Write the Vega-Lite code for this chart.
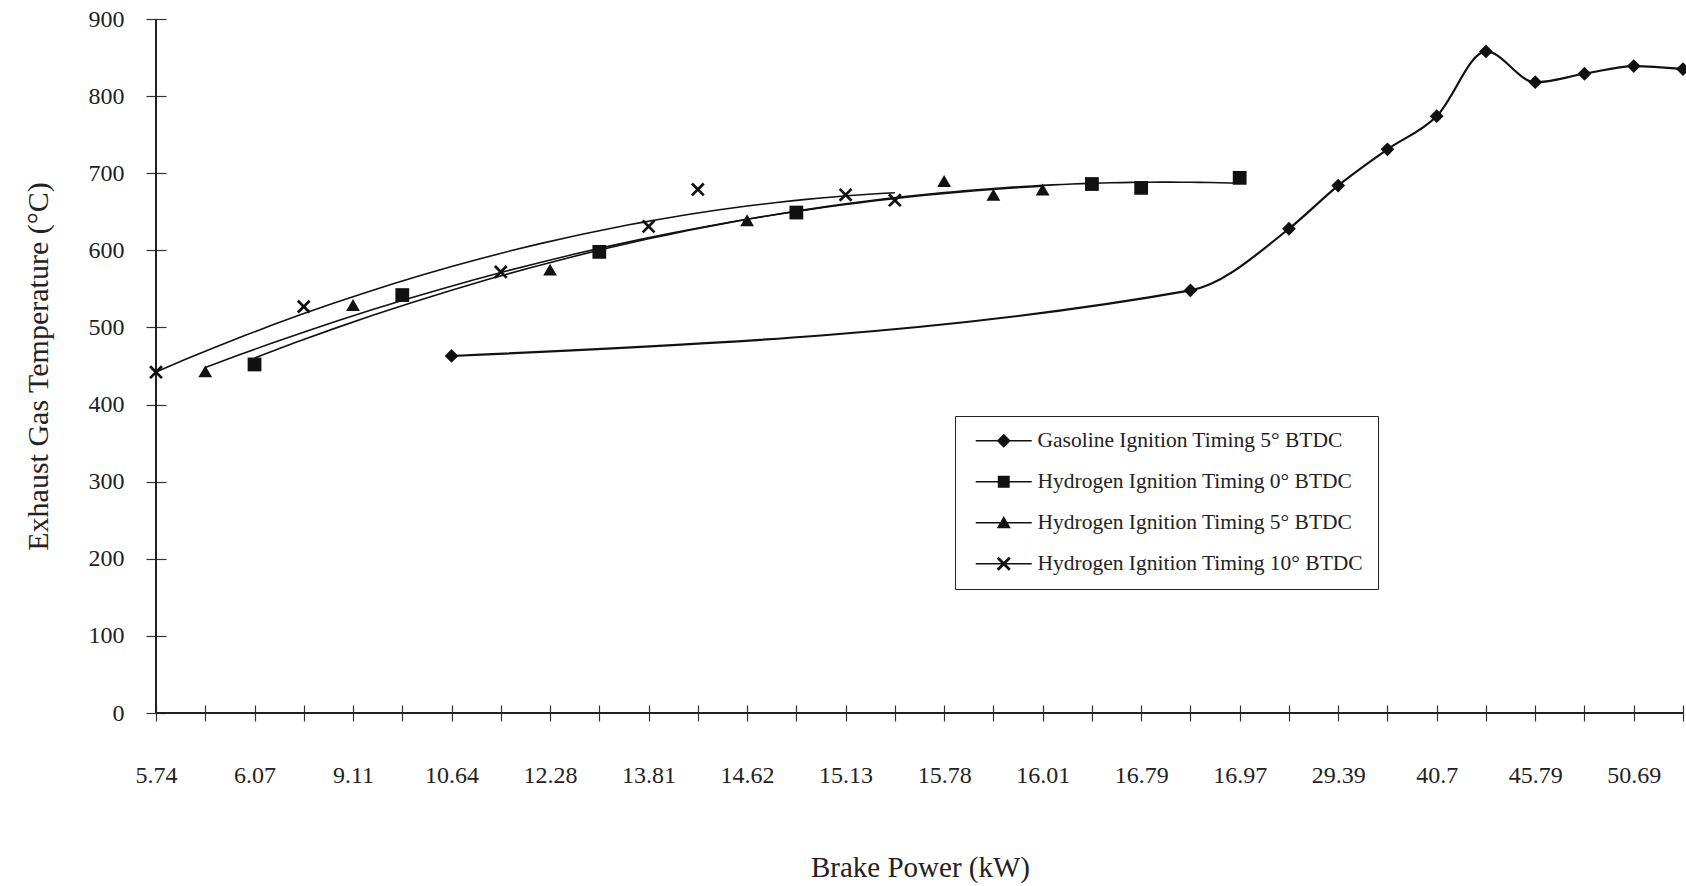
{
  "$schema": "https://vega.github.io/schema/vega-lite/v6.json",
  "width": 1527,
  "height": 694,
  "autosize": "none",
  "padding": {"left": 156, "top": 19, "right": 3, "bottom": 173},
  "background": "white",
  "config": {"font": "Liberation Serif", "view": {"stroke": null}},
  "data": {"values": [
    {"series": "Hydrogen Ignition Timing 10° BTDC", "fuel": "Hydrogen", "pos": 0, "temp": 442},
    {"series": "Hydrogen Ignition Timing 10° BTDC", "fuel": "Hydrogen", "pos": 3, "temp": 527},
    {"series": "Hydrogen Ignition Timing 10° BTDC", "fuel": "Hydrogen", "pos": 7, "temp": 572},
    {"series": "Hydrogen Ignition Timing 10° BTDC", "fuel": "Hydrogen", "pos": 10, "temp": 631},
    {"series": "Hydrogen Ignition Timing 10° BTDC", "fuel": "Hydrogen", "pos": 11, "temp": 679},
    {"series": "Hydrogen Ignition Timing 10° BTDC", "fuel": "Hydrogen", "pos": 14, "temp": 672},
    {"series": "Hydrogen Ignition Timing 10° BTDC", "fuel": "Hydrogen", "pos": 15, "temp": 665},
    {"series": "Hydrogen Ignition Timing 5° BTDC", "fuel": "Hydrogen", "pos": 1, "temp": 443},
    {"series": "Hydrogen Ignition Timing 5° BTDC", "fuel": "Hydrogen", "pos": 4, "temp": 529},
    {"series": "Hydrogen Ignition Timing 5° BTDC", "fuel": "Hydrogen", "pos": 8, "temp": 575},
    {"series": "Hydrogen Ignition Timing 5° BTDC", "fuel": "Hydrogen", "pos": 12, "temp": 639},
    {"series": "Hydrogen Ignition Timing 5° BTDC", "fuel": "Hydrogen", "pos": 16, "temp": 690},
    {"series": "Hydrogen Ignition Timing 5° BTDC", "fuel": "Hydrogen", "pos": 17, "temp": 672},
    {"series": "Hydrogen Ignition Timing 5° BTDC", "fuel": "Hydrogen", "pos": 18, "temp": 679},
    {"series": "Hydrogen Ignition Timing 0° BTDC", "fuel": "Hydrogen", "pos": 2, "temp": 452},
    {"series": "Hydrogen Ignition Timing 0° BTDC", "fuel": "Hydrogen", "pos": 5, "temp": 542},
    {"series": "Hydrogen Ignition Timing 0° BTDC", "fuel": "Hydrogen", "pos": 9, "temp": 598},
    {"series": "Hydrogen Ignition Timing 0° BTDC", "fuel": "Hydrogen", "pos": 13, "temp": 649},
    {"series": "Hydrogen Ignition Timing 0° BTDC", "fuel": "Hydrogen", "pos": 19, "temp": 686},
    {"series": "Hydrogen Ignition Timing 0° BTDC", "fuel": "Hydrogen", "pos": 20, "temp": 681},
    {"series": "Hydrogen Ignition Timing 0° BTDC", "fuel": "Hydrogen", "pos": 22, "temp": 694},
    {"series": "Gasoline Ignition Timing 5° BTDC", "fuel": "Gasoline", "pos": 6, "temp": 463},
    {"series": "Gasoline Ignition Timing 5° BTDC", "fuel": "Gasoline", "pos": 21, "temp": 548},
    {"series": "Gasoline Ignition Timing 5° BTDC", "fuel": "Gasoline", "pos": 23, "temp": 628},
    {"series": "Gasoline Ignition Timing 5° BTDC", "fuel": "Gasoline", "pos": 24, "temp": 684},
    {"series": "Gasoline Ignition Timing 5° BTDC", "fuel": "Gasoline", "pos": 25, "temp": 731},
    {"series": "Gasoline Ignition Timing 5° BTDC", "fuel": "Gasoline", "pos": 26, "temp": 774},
    {"series": "Gasoline Ignition Timing 5° BTDC", "fuel": "Gasoline", "pos": 27, "temp": 858},
    {"series": "Gasoline Ignition Timing 5° BTDC", "fuel": "Gasoline", "pos": 28, "temp": 818},
    {"series": "Gasoline Ignition Timing 5° BTDC", "fuel": "Gasoline", "pos": 29, "temp": 829},
    {"series": "Gasoline Ignition Timing 5° BTDC", "fuel": "Gasoline", "pos": 30, "temp": 839},
    {"series": "Gasoline Ignition Timing 5° BTDC", "fuel": "Gasoline", "pos": 31, "temp": 835}
  ]},
  "resolve": {"scale": {"shape": "independent"}},
  "layer": [
    {
      "mark": {"type": "rule", "color": "#222", "strokeWidth": 1.3},
      "encoding": {
        "x": {"datum": 0, "type": "quantitative", "scale": {"domain": [0, 31], "nice": false, "zero": false}},
        "y": {"datum": 0, "type": "quantitative", "scale": {"domain": [0, 900], "nice": false}},
        "y2": {"datum": 900}
      }
    },
    {
      "mark": {"type": "rule", "color": "#222", "strokeWidth": 1.3},
      "encoding": {
        "y": {"datum": 0, "type": "quantitative"},
        "x": {"datum": 0, "type": "quantitative"},
        "x2": {"datum": 31}
      }
    },
    {
      "transform": [{"filter": "datum.fuel === 'Gasoline'"}],
      "mark": {"type": "line", "interpolate": "monotone", "color": "#111", "strokeWidth": 2.2},
      "encoding": {
        "x": {"field": "pos", "type": "quantitative"},
        "y": {"field": "temp", "type": "quantitative"}
      }
    },
    {
      "transform": [
        {"filter": "datum.fuel === 'Hydrogen'"},
        {"regression": "temp", "on": "pos", "groupby": ["series"], "method": "poly", "order": 2}
      ],
      "mark": {"type": "line", "color": "#111", "strokeWidth": 1.6},
      "encoding": {
        "x": {"field": "pos", "type": "quantitative"},
        "y": {"field": "temp", "type": "quantitative"},
        "detail": {"field": "series", "type": "nominal"}
      }
    },
    {
      "mark": {"type": "point", "filled": true, "color": "#111", "size": 196, "opacity": 0},
      "encoding": {
        "x": {"field": "pos", "type": "quantitative"},
        "y": {"field": "temp", "type": "quantitative"},
        "shape": {
          "field": "series", "type": "nominal",
          "scale": {
            "domain": ["Gasoline Ignition Timing 5° BTDC", "Hydrogen Ignition Timing 0° BTDC", "Hydrogen Ignition Timing 5° BTDC", "Hydrogen Ignition Timing 10° BTDC"],
            "range": [
              "M-4,-0.11L4,-0.11L4,0.11L-4,0.11ZM0,-1L1,0L0,1L-1,0Z",
              "M-4,-0.11L4,-0.11L4,0.11L-4,0.11ZM-0.85,-0.85L0.85,-0.85L0.85,0.85L-0.85,0.85Z",
              "M-4,-0.11L4,-0.11L4,0.11L-4,0.11ZM0,-0.95L1,0.8L-1,0.8Z",
              "M-4,-0.11L4,-0.11L4,0.11L-4,0.11ZM-1,-0.72L-0.72,-1L0,-0.28L0.72,-1L1,-0.72L0.28,0L1,0.72L0.72,1L0,0.28L-0.72,1L-1,0.72L-0.28,0Z"
            ]
          },
          "legend": {
            "orient": "none", "legendX": 799, "legendY": 397,
            "title": null, "strokeColor": "#222", "fillColor": "white", "padding": 14,
            "labelFont": "Liberation Serif", "labelFontSize": 21.5, "labelColor": "#222", "labelLimit": 600,
            "symbolSize": 196, "symbolFillColor": "#111", "symbolStrokeColor": "#111", "symbolStrokeWidth": 0.5, "symbolOpacity": 1,
            "symbolOffset": 24, "labelOffset": 23, "rowPadding": 18
          }
        }
      }
    },
    {
      "mark": {"type": "point", "filled": true, "color": "#111", "size": 190, "opacity": 1},
      "encoding": {
        "x": {
          "field": "pos", "type": "quantitative",
          "axis": {
            "values": [0,1,2,3,4,5,6,7,8,9,10,11,12,13,14,15,16,17,18,19,20,21,22,23,24,25,26,27,28,29,30,31],
            "labelExpr": "['5.74','','6.07','','9.11','','10.64','','12.28','','13.81','','14.62','','15.13','','15.78','','16.01','','16.79','','16.97','','29.39','','40.7','','45.79','','50.69',''][datum.value]",
            "offset": -8, "tickSize": 16, "tickColor": "#333", "tickWidth": 1.2,
            "domain": false, "grid": false,
            "labelPadding": 42, "labelFontSize": 24, "labelColor": "#222", "labelFlush": false, "labelOverlap": false,
            "title": "Brake Power (kW)", "titleFontSize": 29, "titleFontWeight": "normal", "titleColor": "#222",
            "titleX": 764, "titleY": 162, "titleBaseline": "middle"
          }
        },
        "y": {
          "field": "temp", "type": "quantitative",
          "axis": {
            "values": [0,100,200,300,400,500,600,700,800,900],
            "offset": -10, "tickSize": 20, "tickColor": "#333", "tickWidth": 1.2,
            "domain": false, "grid": false,
            "labelPadding": 22, "labelFontSize": 24, "labelColor": "#222",
            "title": "Exhaust Gas Temperature (°C)", "titleFontSize": 30, "titleFontWeight": "normal", "titleColor": "#222",
            "titleX": -128, "titleY": 347, "titleBaseline": "middle", "titleAngle": -90
          }
        },
        "shape": {
          "field": "series", "type": "nominal",
          "scale": {
            "domain": ["Gasoline Ignition Timing 5° BTDC", "Hydrogen Ignition Timing 0° BTDC", "Hydrogen Ignition Timing 5° BTDC", "Hydrogen Ignition Timing 10° BTDC"],
            "range": ["diamond", "square", "triangle-up", "M-1,-0.72L-0.72,-1L0,-0.28L0.72,-1L1,-0.72L0.28,0L1,0.72L0.72,1L0,0.28L-0.72,1L-1,0.72L-0.28,0Z"]
          },
          "legend": null
        }
      }
    }
  ]
}
